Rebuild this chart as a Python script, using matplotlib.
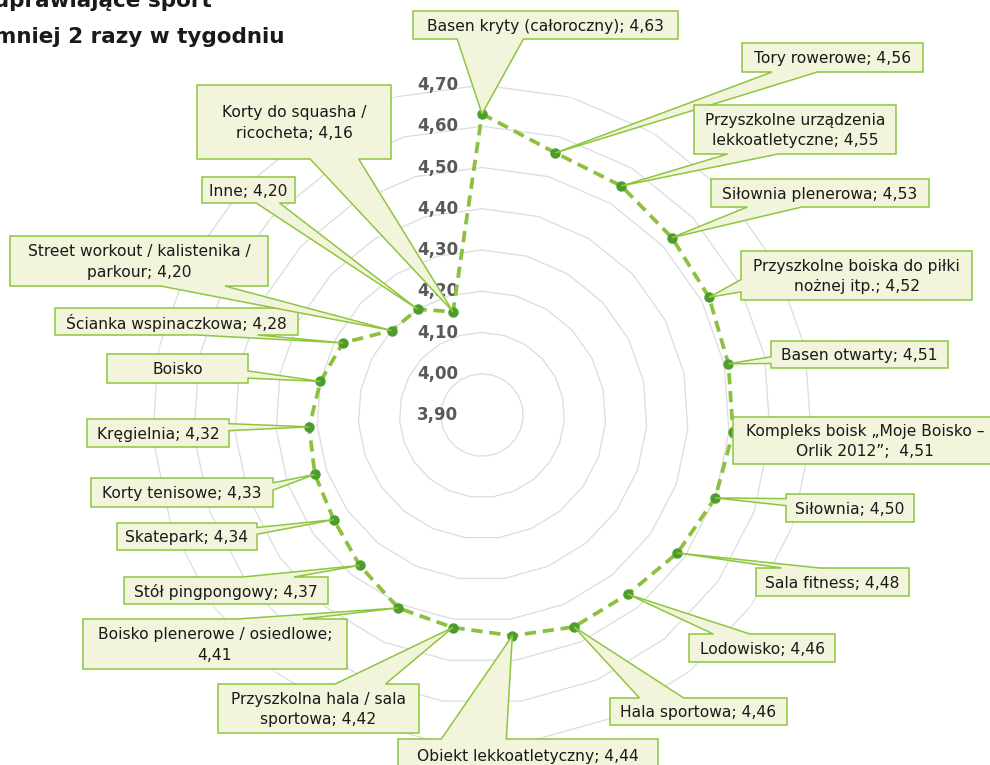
import numpy as np
import matplotlib
matplotlib.use("Agg")
import matplotlib.pyplot as plt
from matplotlib.patches import Polygon

# ---------------- data ----------------
categories = [
    "Basen kryty (całoroczny)", "Tory rowerowe",
    "Przyszkolne urządzenia lekkoatletyczne", "Siłownia plenerowa",
    "Przyszkolne boiska do piłki nożnej itp.", "Basen otwarty",
    "Kompleks boisk „Moje Boisko – Orlik 2012”", "Siłownia", "Sala fitness",
    "Lodowisko", "Hala sportowa", "Obiekt lekkoatletyczny",
    "Przyszkolna hala / sala sportowa", "Boisko plenerowe / osiedlowe",
    "Stół pingpongowy", "Skatepark", "Korty tenisowe", "Kręgielnia", "Boisko",
    "Ścianka wspinaczkowa", "Street workout / kalistenika / parkour", "Inne",
    "Korty do squasha / ricocheta",
]
values = [4.63, 4.56, 4.55, 4.53, 4.52, 4.51, 4.51, 4.50, 4.48, 4.46, 4.46,
          4.44, 4.42, 4.41, 4.37, 4.34, 4.33, 4.32, 4.30, 4.28, 4.20, 4.20, 4.16]
label_templates = [
    "Basen kryty (całoroczny); {v}", "Tory rowerowe; {v}",
    "Przyszkolne urządzenia\nlekkoatletyczne; {v}", "Siłownia plenerowa; {v}",
    "Przyszkolne boiska do piłki\nnożnej itp.; {v}", "Basen otwarty; {v}",
    "Kompleks boisk „Moje Boisko –\nOrlik 2012”;  {v}", "Siłownia; {v}",
    "Sala fitness; {v}", "Lodowisko; {v}", "Hala sportowa; {v}",
    "Obiekt lekkoatletyczny; {v}", "Przyszkolna hala / sala\nsportowa; {v}",
    "Boisko plenerowe / osiedlowe;\n{v}", "Stół pingpongowy; {v}",
    "Skatepark; {v}", "Korty tenisowe; {v}", "Kręgielnia; {v}", "Boisko",
    "Ścianka wspinaczkowa; {v}", "Street workout / kalistenika /\nparkour; {v}",
    "Inne; {v}", "Korty do squasha /\nricocheta; {v}",
]
r_ticks = [3.90, 4.00, 4.10, 4.20, 4.30, 4.40, 4.50, 4.60, 4.70]
r_tick_labels = ["3,90", "4,00", "4,10", "4,20", "4,30", "4,40", "4,50", "4,60", "4,70"]
title_lines = ["Osoby uprawiające sport", "co najmniej 2 razy w tygodniu"]

# ---------------- layout (pixels, top-down) ----------------
W, H = 990, 765
cx, cy, R = 482, 415, 330
label_boxes = [
    (413, 11, 678, 39), (742, 43, 923, 72), (694, 105, 896, 154),
    (711, 179, 929, 207), (741, 251, 972, 300), (771, 341, 948, 368),
    (733, 417, 997, 464), (786, 494, 914, 522), (756, 568, 909, 596),
    (689, 634, 835, 662), (610, 698, 787, 725), (398, 739, 658, 772),
    (218, 684, 419, 733), (83, 619, 347, 669), (124, 577, 328, 604),
    (117, 523, 257, 550), (91, 478, 273, 507), (87, 419, 229, 447),
    (107, 354, 248, 383), (55, 308, 298, 335), (10, 236, 268, 286),
    (202, 177, 295, 203), (197, 85, 391, 159),
]

LINE_C = "#8CC03F"
MARK_C = "#4E9C2E"
BOX_FILL = "#F2F5DC"
BOX_EDGE = "#8DC63F"
GRID_C = "#DCDCDC"

fig = plt.figure(figsize=(W / 100, H / 100), dpi=100)
fig.patch.set_facecolor("white")

ax = fig.add_axes([(cx - R) / W, (H - cy - R) / H, 2 * R / W, 2 * R / H],
                  projection="polar")
ax.set_theta_zero_location("N")
ax.set_theta_direction(-1)
ax.set_ylim(r_ticks[0], r_ticks[-1])
ax.grid(False)
ax.set_xticks([])
ax.set_yticks([])
ax.spines["polar"].set_visible(False)
ax.patch.set_alpha(0)

n = len(values)
theta = np.arange(n) * 2 * np.pi / n
theta_c = np.append(theta, theta[0])

for t in r_ticks[1:]:
    ax.plot(theta_c, [t] * (n + 1), color=GRID_C, lw=0.9, zorder=1)

for t, lbl in zip(r_ticks, r_tick_labels):
    ax.annotate(lbl, xy=(0, t), xytext=(-24 * 0.72, 0), textcoords="offset points",
                ha="right", va="center", fontsize=12, fontweight="bold",
                color="#595959", zorder=2, annotation_clip=False)

vals_c = np.append(values, values[0])
ax.plot(theta_c, vals_c, color=LINE_C, lw=2.7, dashes=(3.0, 1.8),
        dash_capstyle="butt", zorder=3)
ax.plot(theta, values, "o", ms=6.5, color=MARK_C, mec=MARK_C, zorder=4)

# ---------------- overlay for callouts ----------------
ov = fig.add_axes([0, 0, 1, 1], zorder=5)
ov.set_xlim(0, W)
ov.set_ylim(H, 0)
ov.axis("off")
ov.patch.set_alpha(0)


def callout_points(box, tx, ty):
    x0, y0, x1, y1 = box
    w, h = x1 - x0, y1 - y0
    hc, vc = (x0 + x1) / 2, (y0 + y1) / 2
    dxp, dyp = tx - hc, ty - vc
    dq = abs(dxp) * h / w - abs(dyp)
    xa, xb = (7, 10) if dxp > 0 else (2, 5)
    ya, yb = (7, 10) if dyp > 0 else (2, 5)
    pts = [(x0, y0)]
    if dq <= 0 and dyp < 0:
        pts += [(x0 + w * xa / 12, y0), (tx, ty), (x0 + w * xb / 12, y0)]
    pts.append((x1, y0))
    if dq > 0 and dxp > 0:
        pts += [(x1, y0 + h * ya / 12), (tx, ty), (x1, y0 + h * yb / 12)]
    pts.append((x1, y1))
    if dq <= 0 and dyp > 0:
        pts += [(x0 + w * xb / 12, y1), (tx, ty), (x0 + w * xa / 12, y1)]
    pts.append((x0, y1))
    if dq > 0 and dxp < 0:
        pts += [(x0, y0 + h * yb / 12), (tx, ty), (x0, y0 + h * ya / 12)]
    return pts


for i in range(n):
    px, py = ax.transData.transform((theta[i], values[i]))
    tx, ty = px, H - py
    box = label_boxes[i]
    pts = callout_points(box, tx, ty)
    ov.add_patch(Polygon(pts, closed=True, facecolor=BOX_FILL, edgecolor=BOX_EDGE,
                         lw=1.1, joinstyle="miter", zorder=2))
    txt = label_templates[i].format(v=f"{values[i]:.2f}".replace(".", ","))
    ov.text((box[0] + box[2]) / 2, (box[1] + box[3]) / 2 + 1, txt, ha="center",
            va="center", fontsize=11.2, color="#1A1A1A", linespacing=1.45,
            zorder=3)

ov.text(212, 7, title_lines[0], ha="right", va="baseline", fontsize=15.5,
        fontweight="bold", color="#1A1A1A")
ov.text(285, 43, title_lines[1], ha="right", va="baseline", fontsize=15.5,
        fontweight="bold", color="#1A1A1A")

fig.savefig("out.png", dpi=100, facecolor="white")
